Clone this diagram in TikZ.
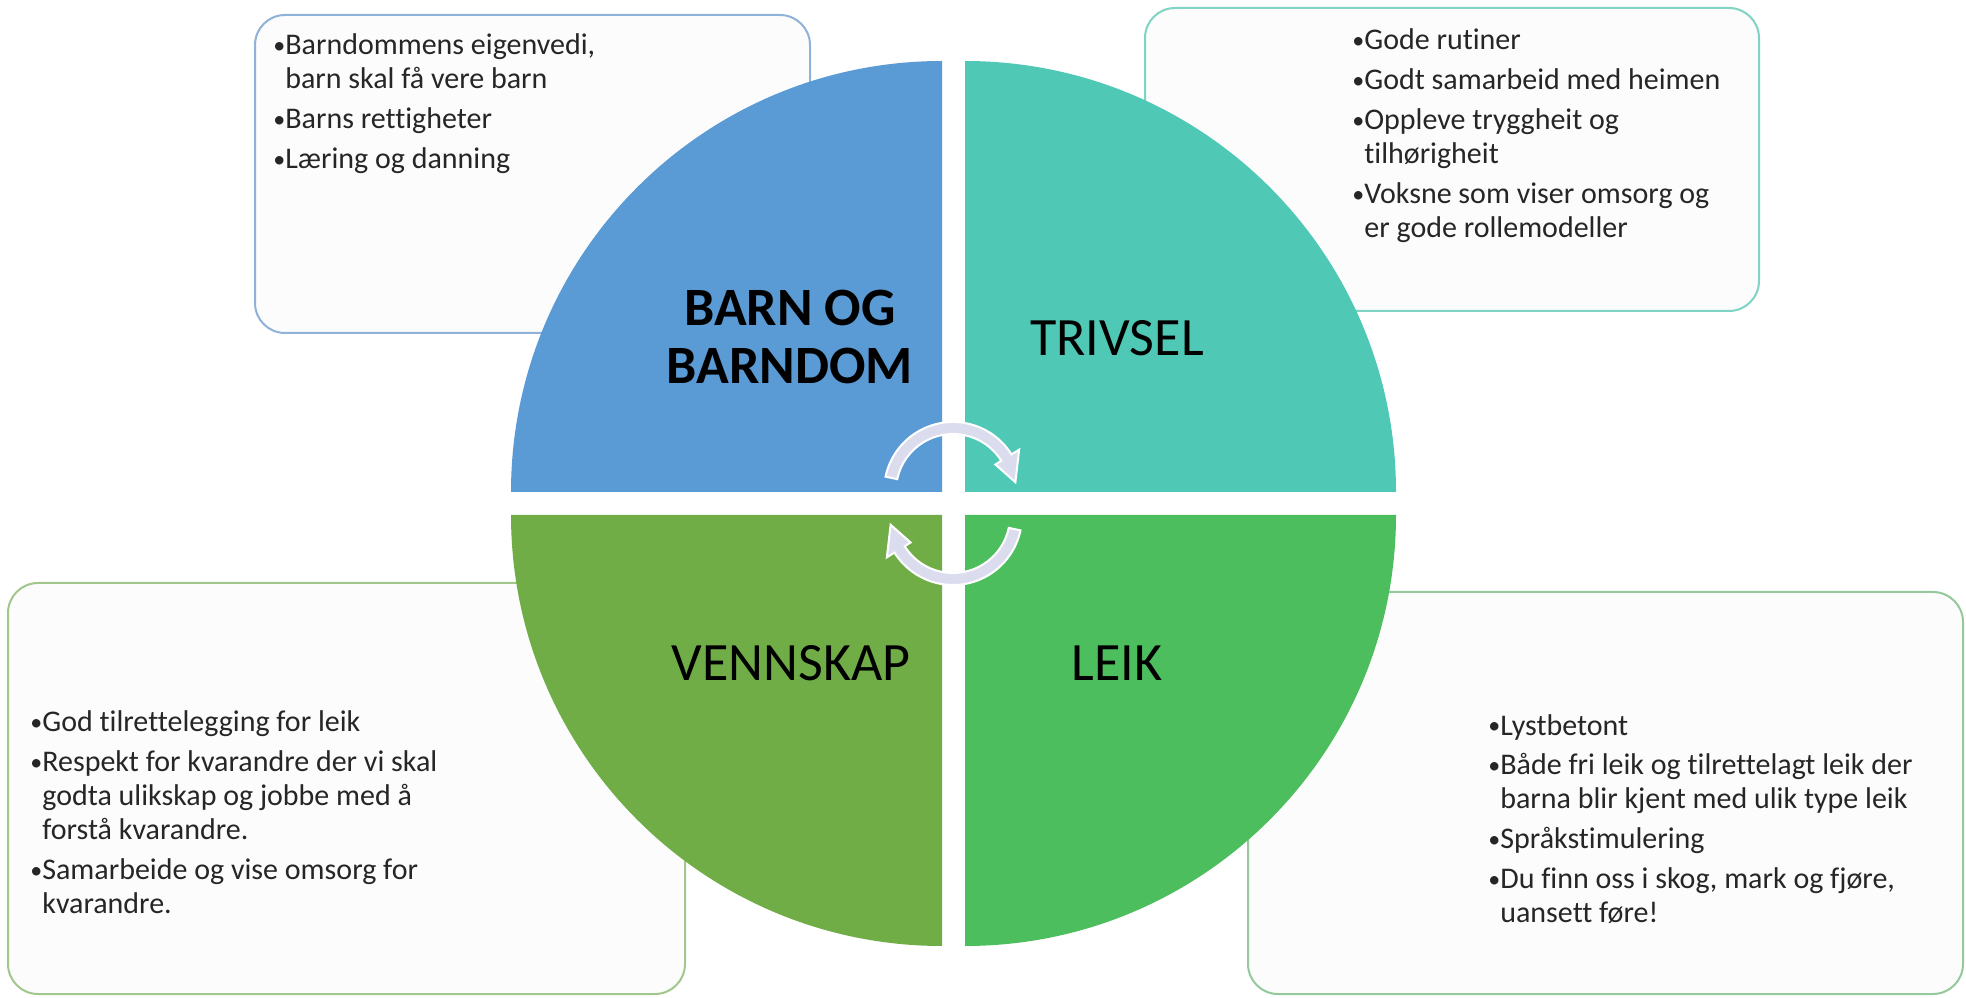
\documentclass[tikz,border=0pt]{standalone}
\usepackage{fontspec}
\setmainfont{Carlito}[Ligatures={NoCommon}]
\usetikzlibrary{calc}
\definecolor{qblue}{HTML}{5B9BD5}
\definecolor{qteal}{HTML}{4FC8B5}
\definecolor{qgreenA}{HTML}{70AD47}
\definecolor{qgreenB}{HTML}{4CBE5E}
\definecolor{bTL}{HTML}{8FB2D8}
\definecolor{bTR}{HTML}{7FD4C4}
\definecolor{bBL}{HTML}{A2C78C}
\definecolor{bBR}{HTML}{95C99D}
\definecolor{boxfill}{HTML}{FCFCFC}
\definecolor{arrowfill}{HTML}{DCDCEF}
\definecolor{txt}{HTML}{262626}
\newcommand{\bul}{\raisebox{0.8pt}{\fontsize{12}{17}\selectfont\textbullet}}
\newcommand{\drawcircarrow}[5]{%
  \filldraw[arrowfill, draw=white, line width=1pt]
    ($(#1,#2)+(#3:69)$) arc[start angle=#3, end angle=#4, radius=69]
    -- ($(#1,#2)+(#4:78)$) -- ($(#1,#2)+(#5:63)$) -- ($(#1,#2)+(#4:50)$)
    -- ($(#1,#2)+(#4:57)$) arc[start angle=#4, end angle=#3, radius=57] -- cycle;}
\begin{document}
\begin{tikzpicture}[x=0.5pt,y=0.5pt,
  infobox/.style={fill=boxfill, line width=1pt, rounded corners=15pt},
  listtext/.style={anchor=base west, inner sep=0pt, text=txt,
    font=\fontsize{15}{17}\selectfont},
  biglabel/.style={anchor=center, inner sep=0pt, text=black, align=center,
    font=\fontsize{27}{29}\selectfont}]
\useasboundingbox (0,0) rectangle (1966,997);
\fill[white] (0,0) rectangle (1966,997);
% boxes
\draw[infobox, draw=bTL] (255,664) rectangle (810,982);
\draw[infobox, draw=bTR] (1145,686) rectangle (1759,989);
\draw[infobox, draw=bBL] (8,3) rectangle (685,414);
\draw[infobox, draw=bBR] (1248,3) rectangle (1963,405);
% quadrants
\fill[qblue] (942,505) -- ++(-431,0) arc[start angle=180,end angle=90,radius=431] -- cycle;
\fill[qteal] (965,505) -- ++(0,431) arc[start angle=90,end angle=0,radius=431] -- cycle;
\fill[qgreenA] (942,482) -- ++(0,-431) arc[start angle=270,end angle=180,radius=431] -- cycle;
\fill[qgreenB] (965,482) -- ++(431,0) arc[start angle=0,end angle=-90,radius=431] -- cycle;
% circular arrows
\drawcircarrow{953}{506}{168}{32}{8}
\drawcircarrow{953}{481}{-12}{-148}{-172}
% labels
\node[biglabel, font=\fontsize{27}{29}\selectfont\bfseries] (lTL) at (790,660) {BARN OG\\BARNDOM};
\node[biglabel] (lTR) at (1117,659) {TRIVSEL};
\node[biglabel] (lBL) at (791,334) {VENNSKAP};
\node[biglabel] (lBR) at (1117,334) {LEIK};
% lists
\node[listtext] (tTL) at (273,942) {\begin{tabular}[t]{@{}l@{}l@{}}
\bul&Barndommens eigenvedi,\\
&barn skal få vere barn\\[3pt]
\bul&Barns rettigheter\\[3pt]
\bul&Læring og danning
\end{tabular}};
\node[listtext] (tTR) at (1352,947) {\begin{tabular}[t]{@{}l@{}l@{}}
\bul&Gode rutiner\\[3pt]
\bul&Godt samarbeid med heimen\\[3pt]
\bul&Oppleve tryggheit og\\
&tilhørigheit\\[3pt]
\bul&Voksne som viser omsorg og\\
&er gode rollemodeller
\end{tabular}};
\node[listtext] (tBL) at (30,265) {\begin{tabular}[t]{@{}l@{}l@{}}
\bul&God tilrettelegging for leik\\[3pt]
\bul&Respekt for kvarandre der vi skal\\
&godta ulikskap og jobbe med å\\
&forstå kvarandre.\\[3pt]
\bul&Samarbeide og vise omsorg for\\
&kvarandre.
\end{tabular}};
\node[listtext] (tBR) at (1488,262) {\begin{tabular}[t]{@{}l@{}l@{}}
\bul&Lystbetont\\[3pt]
\bul&Både fri leik og tilrettelagt leik der\\
&barna blir kjent med ulik type leik\\[3pt]
\bul&Språkstimulering\\[3pt]
\bul&Du finn oss i skog, mark og fjøre,\\
&uansett føre!
\end{tabular}};
\end{tikzpicture}
\end{document}
